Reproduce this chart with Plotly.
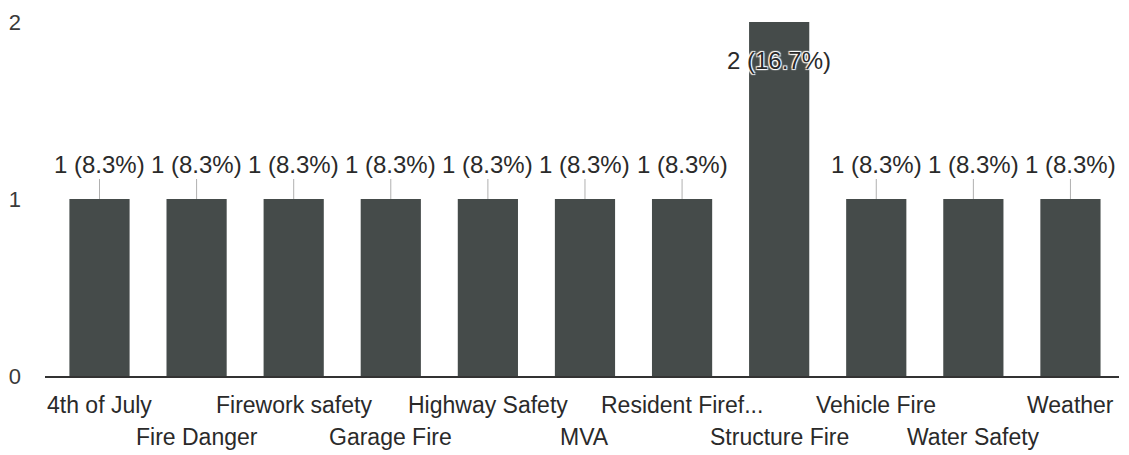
import plotly.graph_objects as go

categories = ["4th of July", "Fire Danger", "Firework safety", "Garage Fire",
              "Highway Safety", "MVA", "Resident Firef...", "Structure Fire",
              "Vehicle Fire", "Water Safety", "Weather"]
counts = [1, 1, 1, 1, 1, 1, 1, 2, 1, 1, 1]
percents = ["8.3%", "8.3%", "8.3%", "8.3%", "8.3%", "8.3%", "8.3%", "16.7%",
            "8.3%", "8.3%", "8.3%"]
y_ticks = [0, 1, 2]

FONT = "Liberation Sans, Arial, sans-serif"
TXT = "#2a2a2a"
BAR = "#454b4a"
FS = 23
ymax = max(y_ticks)

fig = go.Figure(go.Bar(x=categories, y=counts, marker_color=BAR,
                       marker_line_width=0, hoverinfo="skip"))

ann = []
for i, (c, v, p) in enumerate(zip(categories, counts, percents)):
    label = f"{v} ({p})"
    if v >= ymax:
        ann.append(dict(x=c, y=v, xref="x", yref="y", text=label, showarrow=False,
                        yshift=-38, font=dict(family=FONT, size=24, color=TXT,
                                              shadow="1px 1px 1px #fff, -1px -1px 1px #fff, 1px -1px 1px #fff, -1px 1px 1px #fff")))
    else:
        ann.append(dict(x=c, y=v, xref="x", yref="y", text=label, showarrow=True,
                        arrowhead=0, arrowwidth=1, arrowcolor="#b0b0b0",
                        ax=0, ay=-35, standoff=0,
                        font=dict(family=FONT, size=24, color=TXT)))
    # staggered category labels
    ann.append(dict(x=c, y=0, xref="x", yref="paper", text=c, showarrow=False,
                    yanchor="middle", yshift=-29 if i % 2 == 0 else -61,
                    font=dict(family=FONT, size=FS, color=TXT)))

fig.update_layout(
    width=1129, height=455,
    margin=dict(l=37, r=18, t=14, b=87, autoexpand=False),
    paper_bgcolor="white", plot_bgcolor="white",
    showlegend=False, bargap=0.38,
    annotations=ann,
    xaxis=dict(showticklabels=False, showline=True, linecolor="#333333",
               linewidth=2, ticks="", showgrid=False, fixedrange=True,
               automargin=False),
    yaxis=dict(range=[0, ymax], tickvals=y_ticks, showgrid=False, zeroline=False,
               ticklabelstandoff=23, automargin=False,
               tickfont=dict(family=FONT, size=22, color="#3a3a3a"), fixedrange=True),
)

fig.write_html("out.html")
